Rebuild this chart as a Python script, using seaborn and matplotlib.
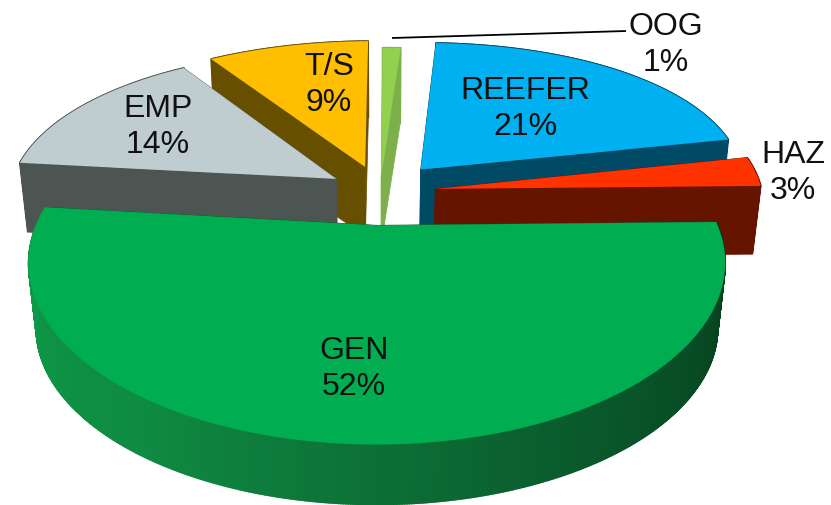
import numpy as np
import matplotlib
matplotlib.use("Agg")
import matplotlib.pyplot as plt
import seaborn as sns

sns.set_theme(style="white")
plt.rcParams["font.family"] = ["Liberation Sans", "DejaVu Sans"]

# values, clockwise from the top
labels = ["REEFER", "HAZ", "GEN", "EMP", "T/S", "OOG"]
shares = [21, 3, 52, 14, 9, 1]

top_colors = ["#00B0F0", "#FF3300", "#00AD50", "#BFCDD0", "#FFBE00", "#92D050"]
wall_colors = ["#004A66", "#651400", "#0A5A2C", "#4D5553", "#665000", "#7DB04A"]
explode = [0.19, 0.17, 0.20, 0.16, 0.17, 0.10]
label_pos = [(525, 109), (793, 173), (354, 369), (158, 127), (329, 85), (666, 45)]

# projection of the tilted pie onto the picture
CX, CY, A, B, K, KX, H = 380, 193, 327, 160, 0.2, 0.12, 68
SKEW, TAPER = 8, 0.022
START = 2.5


def project(u, v, z=0.0):
    s = 1 / (1 + K * v)
    sx = 1 / (1 + np.where(v < 0, K, KX) * v)
    x = CX + (A * u + SKEW * np.maximum(v, 0)) * sx * (1 - TAPER * z)
    return x, CY - B * v * s + H * z * (1 + 0.1 * v)


def wedge_outline(a0, a1, e):
    mid = np.radians((a0 + a1) / 2)
    ox, oy = e * np.sin(mid), e * np.cos(mid)
    th = np.radians(np.linspace(a0, a1, max(int(a1 - a0) * 3, 6)))
    return ox, oy, ox + np.sin(th), oy + np.cos(th)


fig = plt.figure(figsize=(8.31, 5.06), dpi=100)
ax = fig.add_axes([0, 0, 1, 1])
ax.set_xlim(0, 831)
ax.set_ylim(506, 0)
ax.axis("off")

edges = START + np.concatenate([[0], np.cumsum(shares)]) * 3.6
rim_gen = sns.blend_palette(["#0C9E49", "#0F8A42", "#0A5A2C", "#04391A"], 200)

# back slices first, GEN in front
for i in [5, 4, 0, 3, 1, 2]:
    ox, oy, us, vs = wedge_outline(edges[i], edges[i + 1], explode[i])
    wall = wall_colors[i]

    # cut faces
    for u, v in [(us[0], vs[0]), (us[-1], vs[-1])]:
        x0, y0 = project(ox, oy)
        x1, y1 = project(u, v)
        x2, y2 = project(u, v, 1)
        x3, y3 = project(ox, oy, 1)
        ax.fill([x0, x1, x2, x3], [y0, y1, y2, y3], color=wall, lw=0.5)

    # outer rim
    for j in range(len(us) - 1):
        x0, y0 = project(us[j], vs[j])
        x1, y1 = project(us[j + 1], vs[j + 1])
        x2, y2 = project(us[j + 1], vs[j + 1], 1)
        x3, y3 = project(us[j], vs[j], 1)
        if labels[i] == "GEN":
            c = rim_gen[len(rim_gen) - 1 - int(j / (len(us) - 1) * len(rim_gen))]
        else:
            c = wall
        ax.fill([x0, x1, x2, x3], [y0, y1, y2, y3], color=c, lw=1.2)

    # top face
    xs, ys = project(np.r_[ox, us], np.r_[oy, vs])
    ax.fill(xs, ys, color=top_colors[i], lw=0)

# OOG leader line
ax.plot([392, 626], [39, 32], color="black", lw=1.3, solid_capstyle="butt")

for name, share, (x, y) in zip(labels, shares, label_pos):
    ax.text(x, y, f"{name}\n{share}%", ha="center", va="center", fontsize=23,
            color="#111111", linespacing=1.3)

fig.savefig("out.png", dpi=100)
